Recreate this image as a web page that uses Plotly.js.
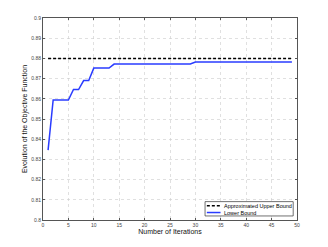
<!DOCTYPE html>
<html><head><meta charset="utf-8">
<script src="https://cdn.plot.ly/plotly-3.0.1.min.js"></script>
<style>html,body{margin:0;padding:0;background:#fff;}#c{width:328px;height:247px;}</style>
</head><body><div id="c"></div>
<script>
const iterations = [1,2,3,4,5,6,7,8,9,10,11,12,13,14,15,16,17,18,19,20,21,22,23,24,25,26,27,28,29,30,31,32,33,34,35,36,37,38,39,40,41,42,43,44,45,46,47,48,49];
const lowerBound = [0.8346,0.8594,0.8594,0.8594,0.8594,0.8646,0.8646,0.8690,0.8690,0.8752,0.8752,0.8752,0.8752,0.8772,0.8772,0.8772,0.8772,0.8772,0.8772,0.8772,0.8772,0.8772,0.8772,0.8772,0.8772,0.8772,0.8772,0.8772,0.8772,0.8782,0.8782,0.8782,0.8782,0.8782,0.8782,0.8782,0.8782,0.8782,0.8782,0.8782,0.8782,0.8782,0.8782,0.8782,0.8782,0.8782,0.8782,0.8782,0.8782];
const upperX = [1,49];
const upperBound = [0.88,0.88];
const xTicks = [0,5,10,15,20,25,30,35,40,45,50];
const yTicks = [0.8,0.81,0.82,0.83,0.84,0.85,0.86,0.87,0.88,0.89,0.9];
const yTickText = ['0.8','0.81','0.82','0.83','0.84','0.85','0.86','0.87','0.88','0.89','0.9'];
const seriesNames = ['Approximated Upper Bound','Lower Bound'];

const FONT = 'Liberation Sans, Arial';
const axisCommon = {
  showgrid:true, gridcolor:'#cccccc', griddash:'dot', gridwidth:0.6,
  showline:true, linecolor:'#555', linewidth:1, mirror:'ticks',
  ticks:'inside', ticklen:2, tickcolor:'#555', zeroline:false,
  tickfont:{family:FONT, size:5, color:'#444'}
};
const upperStyle = {color:'#000', width:1.5, dash:'3px,2px'};
const lowerStyle = {color:'#2a3cff', width:1.5};
const data = [
  {x:upperX, y:upperBound, mode:'lines', name:seriesNames[0], line:upperStyle},
  {x:iterations, y:lowerBound, mode:'lines', name:seriesNames[1], line:lowerStyle}
];
// compact legend drawn in paper coordinates
const lg = {x0:0.638, x1:0.985, y0:0.02, y1:0.091, rows:[0.0705,0.037], sx0:0.645, sx1:0.699, tx:0.703};
const shapes = [
  {type:'rect', xref:'paper', yref:'paper', x0:lg.x0, x1:lg.x1, y0:lg.y0, y1:lg.y1,
   line:{color:'#333', width:0.7}, fillcolor:'#fff', layer:'above'},
  {type:'line', xref:'paper', yref:'paper', x0:lg.sx0, x1:lg.sx1, y0:lg.rows[0], y1:lg.rows[0], line:upperStyle, layer:'above'},
  {type:'line', xref:'paper', yref:'paper', x0:lg.sx0, x1:lg.sx1, y0:lg.rows[1], y1:lg.rows[1], line:lowerStyle, layer:'above'}
];
const annotations = seriesNames.map((n,i)=>({
  xref:'paper', yref:'paper', x:lg.tx, y:lg.rows[i], xanchor:'left', yanchor:'middle',
  text:n, showarrow:false, font:{family:FONT, size:5.5, color:'#000'}
}));
const layout = {
  width:328, height:247, paper_bgcolor:'#fff', plot_bgcolor:'#fff',
  margin:{l:43, r:31, t:18, b:27},
  showlegend:false, shapes:shapes, annotations:annotations,
  xaxis:Object.assign({}, axisCommon, {range:[0,50], tickvals:xTicks,
    title:{text:'Number of Iterations', font:{family:FONT, size:7, color:'#111'}, standoff:2}}),
  yaxis:Object.assign({}, axisCommon, {range:[0.8,0.9], tickvals:yTicks, ticktext:yTickText,
    title:{text:'Evolution of the Objective Function', font:{family:FONT, size:7, color:'#111'}, standoff:2}})
};
Plotly.newPlot('c', data, layout, {displayModeBar:false, staticPlot:true});
</script></body></html>
